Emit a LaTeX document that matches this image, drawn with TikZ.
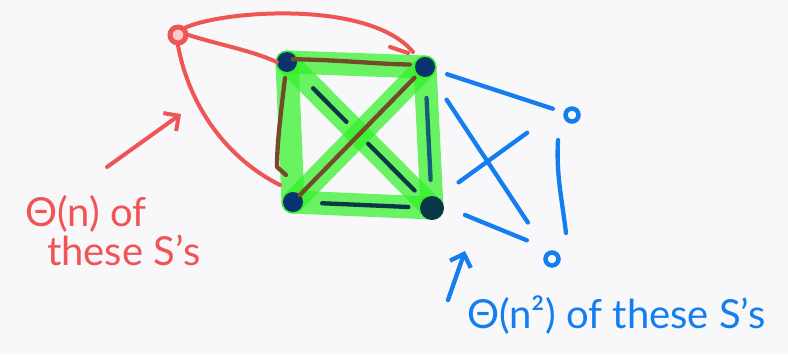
\documentclass[tikz,border=0pt]{standalone}
\usepackage{fontspec}
\setmainfont{Lato}
\usetikzlibrary{calc,arrows.meta,backgrounds}
\definecolor{bg}{RGB}{248,248,250}
\definecolor{pred}{RGB}{240,85,85}
\definecolor{pblue}{RGB}{20,125,240}
\definecolor{pgreen}{RGB}{50,240,40}
\definecolor{pnavy}{RGB}{10,50,110}
\definecolor{pdark}{RGB}{8,55,70}
\definecolor{pteal}{RGB}{20,95,120}
\definecolor{pbrown}{RGB}{115,75,40}
\begin{document}
\begin{tikzpicture}[x=1pt,y=-1pt,
  redline/.style={draw=pred,line width=4pt,line cap=round},
  blueline/.style={draw=pblue,line width=4.3pt,line cap=round},
  greenedge/.style={draw=pgreen,opacity=0.72,line width=23pt,line cap=round},
  darkseg/.style={draw=pdark,line width=4.3pt,line cap=round},
  brownseg/.style={draw=pbrown,line width=4.3pt,line cap=round,line join=round},
  vert/.style={circle,fill=pnavy,inner sep=0pt,minimum size=20pt},
  rnode/.style={circle,draw=pred,line width=5pt,fill=pred!30,inner sep=0pt,minimum size=16pt},
  bnode/.style={circle,draw=pblue,line width=4.5pt,fill=bg,inner sep=0pt,minimum size=13pt},
  redtext/.style={text=pred,font=\fontsize{40}{44}\selectfont,inner sep=0pt,anchor=base west},
  bluetext/.style={text=pblue,font=\fontsize{40}{44}\selectfont,inner sep=0pt,anchor=base west},
  barb/.style={-{Straight Barb[length=11pt,width=22pt]}}
]
\useasboundingbox (0,0) rectangle (788,354);
\begin{scope}[on background layer]
  \fill[bg] (0,0) rectangle (788,354);
\end{scope}

% vertices of the square
\node[vert] (tl) at (287,62) {};
\node[vert] (tr) at (425,67) {};
\node[vert] (bl) at (293,202) {};
\node[vert,fill=pdark,minimum size=24pt] (br) at (432,208) {};

% green highlighted edges
\begin{scope}[on background layer]
  \draw[greenedge] (tl.center) -- (tr.center);
  \draw[greenedge] (tr.center) -- (br.center);
  \draw[greenedge] (br.center) -- (bl.center);
  \draw[greenedge] (bl.center) -- (tl.center);
  \draw[greenedge] (tl.center) -- (br.center);
  \draw[greenedge] (bl.center) -- (tr.center);
\end{scope}

% dark strokes inside
\draw[darkseg] ($(tl)!0.18!(br)$) -- ($(tl)!0.41!(br)$);
\draw[darkseg] ($(tl)!0.56!(br)$) -- ($(tl)!0.88!(br)$);
\draw[darkseg] ($(bl)!0.21!(br)$) -- ($(bl)!0.83!(br)$);
\draw[darkseg,draw=pteal] ($(tr)!0.22!(br)$) -- ($(tr)!0.80!(br)$);

% brown strokes
\draw[brownseg] ($(tl)!0.04!(tr)+(0,-3)$) .. controls ($(tl)!0.4!(tr)+(0,-4)$) and ($(tl)!0.7!(tr)+(0,-1)$) .. ($(tl)!0.89!(tr)+(0,-2)$);
\draw[brownseg] ($(tl)+(-2,16)$) .. controls ($(tl)+(-6,50)$) and ($(tl)+(-10,80)$) .. ($(tl)+(-10,105)$) -- ($(tl)+(-1,113)$);
\draw[brownseg] ($(bl)!0.05!(tr)$) -- ($(bl)!0.92!(tr)$);

% red node and its connectors
\node[rnode] (rn) at (178,35) {};
\draw[redline] (rn.east) .. controls (220,45) and (250,50) .. (tl.west);
\draw[redline] (rn.north east) .. controls (225,10) and (370,0) .. ($(tr)+(-12,-15)$);
\draw[redline] ($(tr)+(-35,-20)$) -- ($(tr)+(-17,-14)$);
\draw[redline] (rn.south) .. controls (190,110) and (230,160) .. ($(bl)+(-13,-17)$);

% red arrow and label
\coordinate (ra0) at (107,167);
\coordinate (ra1) at (181,114);
\draw[redline,barb] (ra0) -- (ra1);
\node[redtext] (rt1) at (25,226) {Θ(n) of};
\node[redtext] (rt2) at (47,265) {these S’s};

% blue nodes and connectors
\node[bnode] (b1) at (572,115) {};
\node[bnode] (b2) at (552,259) {};
\draw[blueline] ($(tr)!0.15!(b1)$) -- ($(tr)!0.87!(b1)$);
\draw[blueline] ($(tr)!0.17!(b2)$) -- ($(tr)!0.81!(b2)$);
\draw[blueline] ($(br)!0.19!(b1)+(0,-8)$) -- ($(br)!0.68!(b1)+(0,-12)$);
\draw[blueline] ($(br)!0.275!(b2)+(0,-7)$) -- ($(br)!0.79!(b2)+(0,-8)$);
\draw[blueline] ($(b1)+(-14,25)$) .. controls ($(b1)+(-16,60)$) and ($(b2)+(10,-60)$) .. ($(b2)+(14,-26)$);

% blue arrow and label
\coordinate (ba0) at (448,300);
\coordinate (ba1) at (465,251);
\draw[blueline,barb] (ba0) -- (ba1);
\node[bluetext] (bt) at (467,328) {Θ(n²) of these S’s};
\end{tikzpicture}
\end{document}
